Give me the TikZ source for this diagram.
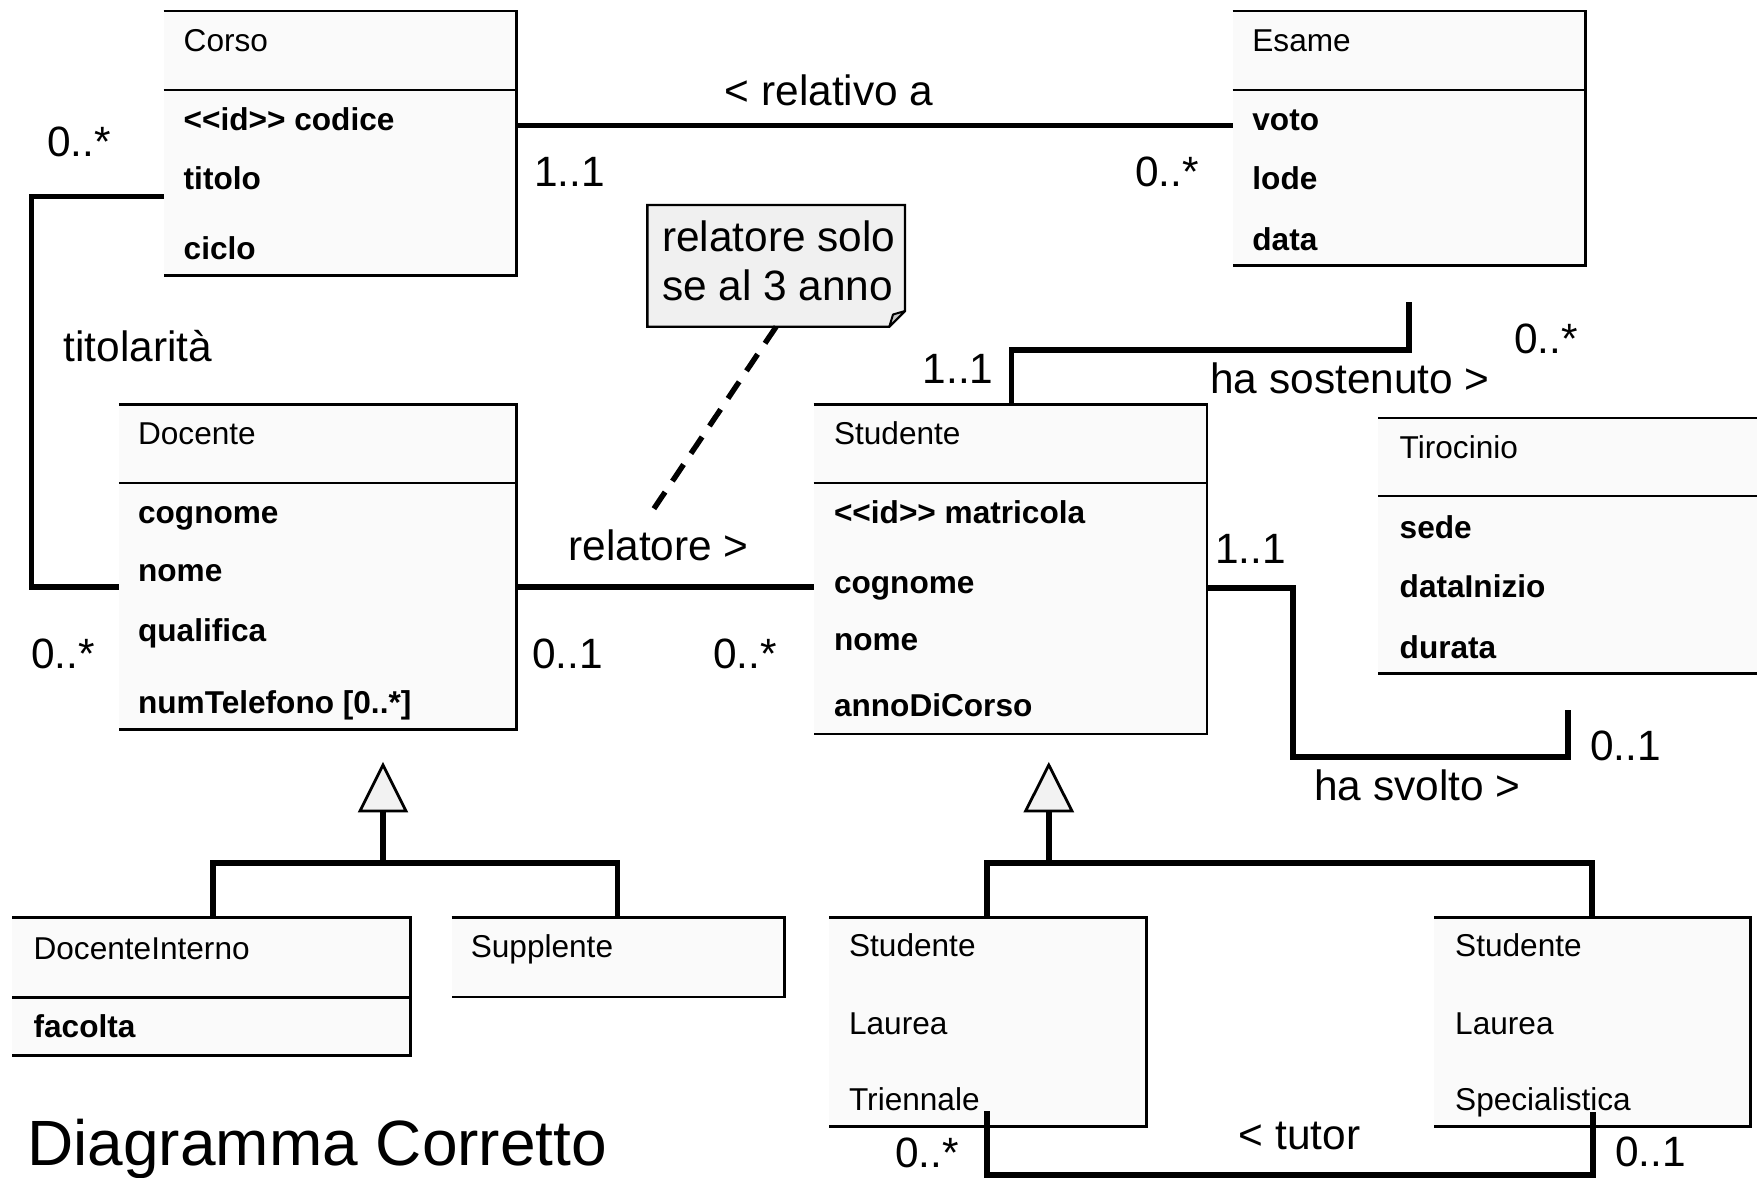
\documentclass[tikz,border=0pt]{standalone}
\usepackage{fontspec}
\setmainfont{Liberation Sans}
\usetikzlibrary{fit}

\definecolor{boxgray}{HTML}{FAFAFA}
\definecolor{notegray}{HTML}{F0F0F0}
\definecolor{foldgray}{HTML}{C4C4C4}
\definecolor{trigray}{HTML}{F2F2F2}

% class box: name, x1, y1, x2, y2 (top, right and bottom border, no left border)
\newcommand\classbox[5]{%
  \node[boxfill, fit={(#2,#3) (#4,#5)}] (#1) {};
  \draw[boxline] (#1.north west) -- (#1.north east) -- (#1.south east) -- (#1.south west);
}
% separator line between name and attribute compartments
\newcommand\compartment[2]{%
  \draw[boxline] (#1.west |- 0,#2) -- (#1.east |- 0,#2);
}
% stereotype marker written with plain angle brackets
\newcommand\idmark{\textless{}\textless{}id\textgreater{}\textgreater{}}

\begin{document}
\begin{tikzpicture}[x=0.5pt,y=-0.5pt,
  boxfill/.style={fill=boxgray, inner sep=0pt, outer sep=0pt},
  boxline/.style={line width=1.4pt},
  assoc/.style={line width=2.7pt},
  ctext/.style={anchor=base west, inner sep=0pt, font=\fontsize{15.8}{19}\selectfont},
  attr/.style={anchor=base west, inner sep=0pt, font=\fontsize{15.8}{19}\selectfont\bfseries},
  lbl/.style={anchor=base west, inner sep=0pt, font=\fontsize{21.2}{25}\selectfont},
  gentri/.style={fill=trigray, draw, line width=1.4pt, line join=miter},
]
\useasboundingbox (0,0) rectangle (1757,1178);
\fill[white] (0,0) rectangle (1757,1178);

% ---------- classes ----------
\classbox{corso}{163.6}{11}{516.5}{275.6}
\compartment{corso}{90}
\node[ctext] (corsoN) at (183.3,51.7) {Corso};
\node[attr] (corsoA1) at (183.3,130) {\idmark{} codice};
\node[attr] (corsoA2) at (183.3,189.5) {titolo};
\node[attr] (corsoA3) at (183.3,259) {ciclo};

\classbox{esame}{1232.6}{11}{1585.5}{265.6}
\compartment{esame}{90}
\node[ctext] (esameN) at (1252,51.7) {Esame};
\node[attr] (esameA1) at (1252,130.7) {voto};
\node[attr] (esameA2) at (1252,189) {lode};
\node[attr] (esameA3) at (1252,250) {data};

\classbox{docente}{118.8}{404.5}{516.5}{729.5}
\compartment{docente}{483}
\node[ctext] (docN) at (137.7,444) {Docente};
\node[attr] (docA1) at (137.7,523.3) {cognome};
\node[attr] (docA2) at (137.7,581.7) {nome};
\node[attr] (docA3) at (137.7,641.7) {qualifica};
\node[attr] (docA4) at (137.7,713.3) {numTelefono [0..*]};

\classbox{studente}{813.5}{404.5}{1207}{734}
\compartment{studente}{483}
\node[ctext] (stuN) at (833.6,444) {Studente};
\node[attr] (stuA1) at (833.6,523.7) {\idmark{} matricola};
\node[attr] (stuA2) at (833.6,593) {cognome};
\node[attr] (stuA3) at (833.6,650) {nome};
\node[attr] (stuA4) at (833.6,716.4) {annoDiCorso};

\classbox{tirocinio}{1378}{418}{1770}{673.5}
\compartment{tirocinio}{496}
\node[ctext] (tirN) at (1399.3,458.3) {Tirocinio};
\node[attr] (tirA1) at (1399.3,538.3) {sede};
\node[attr] (tirA2) at (1399.3,597.3) {dataInizio};
\node[attr] (tirA3) at (1399.3,658.3) {durata};

\classbox{docint}{12.3}{917.7}{410.5}{1055.5}
\compartment{docint}{997.5}
\node[ctext] (diN) at (33.2,959.3) {DocenteInterno};
\node[attr] (diA1) at (33.2,1037.7) {facolta};

\classbox{supplente}{451.6}{917.7}{784.5}{997}
\node[ctext] (supN) at (470.4,957.3) {Supplente};

\classbox{triennale}{829}{917.7}{1146.5}{1126.5}
\node[ctext] (slt1) at (848.7,956.7) {Studente};
\node[ctext] (slt2) at (848.7,1034) {Laurea};
\node[ctext] (slt3) at (848.7,1110) {Triennale};

\classbox{special}{1434}{917.7}{1750.5}{1126.5}
\node[ctext] (sls1) at (1454.8,956.7) {Studente};
\node[ctext] (sls2) at (1454.8,1034) {Laurea};
\node[ctext] (sls3) at (1454.8,1110) {Specialistica};

% ---------- note ----------
\node[inner sep=0pt, outer sep=0pt, fit={(647.3,205) (905,326.7)}] (note) {};
\filldraw[fill=notegray, line width=1.2pt, line join=miter]
  (note.north west) -- (note.north east) -- (905,311) -- (889.3,326.7) -- (note.south west) -- cycle;
\filldraw[fill=foldgray, line width=1.0pt, line join=bevel]
  (905,311) -- (889.3,326.7) -- (893,314.5) -- cycle;
\node[lbl] (noteL1) at (661.7,251.7) {relatore solo};
\node[lbl] (noteL2) at (661.7,300) {se al 3 anno};
\coordinate (noteEnd) at (653,510);
\draw[assoc, dash pattern=on 10pt off 6.6pt] (note.south) -- (noteEnd);

% ---------- associations ----------
% Corso -- Esame
\draw[assoc] (corso.east |- 0,125.5) -- (esame.west |- 0,125.5);
\node[lbl] (relA) at (724.5,105) {< relativo a};
\node[lbl] (m1) at (534,186) {1..1};
\node[lbl] (m2) at (1135,186) {0..*};

% Corso -- Docente
\draw[assoc, line join=miter] (corso.west |- 0,196.7) -- (31.7,196.7) -- (31.7,587) -- (docente.west |- 0,587);
\node[lbl] (m3) at (46.7,156.7) {0..*};
\node[lbl] (titL) at (63.3,361.7) {titolarità};
\node[lbl] (m4) at (31,668) {0..*};

% Docente -- Studente
\draw[assoc] (docente.east |- 0,587) -- (studente.west |- 0,587);
\node[lbl] (relL) at (568,560) {relatore >};
\node[lbl] (m5) at (532,668) {0..1};
\node[lbl] (m6) at (712.6,668) {0..*};

% Studente -- Esame
\coordinate (sostEnd) at (1409,301.7);
\draw[assoc, line join=miter] (1011.7,0 |- studente.north) -- (1011.7,350) -- (1409,350) -- (sostEnd);
\node[lbl] (m7) at (922.4,383.3) {1..1};
\node[lbl] (sostL) at (1210,393.3) {ha sostenuto >};
\node[lbl] (m8) at (1514,353.3) {0..*};

% Studente -- Tirocinio
\coordinate (svoltoEnd) at (1568,710);
\draw[assoc, line join=miter] (studente.east |- 0,588) -- (1293,588) -- (1293,757) -- (1568,757) -- (svoltoEnd);
\node[lbl] (m9) at (1215,563.3) {1..1};
\node[lbl] (m10) at (1590,760) {0..1};
\node[lbl] (svL) at (1314,800) {ha svolto >};

% Triennale -- Specialistica
\coordinate (tutA) at (987,1111);
\coordinate (tutB) at (1593,1112);
\draw[assoc, line join=miter] (tutA) -- (987,1175) -- (1593,1175) -- (tutB);
\node[lbl] (tutL) at (1238.4,1149.3) {< tutor};
\node[lbl] (m11) at (894.7,1167.5) {0..*};
\node[lbl] (m12) at (1615,1166) {0..1};

% ---------- generalizations ----------
\coordinate (genD) at (383,765);
\draw[assoc] (383,811) -- (383,863);
\draw[gentri] (genD) -- (406,811) -- (360,811) -- cycle;
\draw[assoc, line join=miter] (212.8,0 |- docint.north) -- (212.8,863) -- (617.3,863) -- (617.3,0 |- supplente.north);

\coordinate (genS) at (1048.8,765);
\draw[assoc] (1048.8,811) -- (1048.8,863);
\draw[gentri] (genS) -- (1072,811) -- (1025.6,811) -- cycle;
\draw[assoc, line join=miter] (987,0 |- triennale.north) -- (987,863) -- (1592,863) -- (1592,0 |- special.north);

% ---------- title ----------
\node[anchor=base west, inner sep=0pt, font=\fontsize{32}{38}\selectfont] (title) at (27,1165) {Diagramma Corretto};
\end{tikzpicture}
\end{document}
